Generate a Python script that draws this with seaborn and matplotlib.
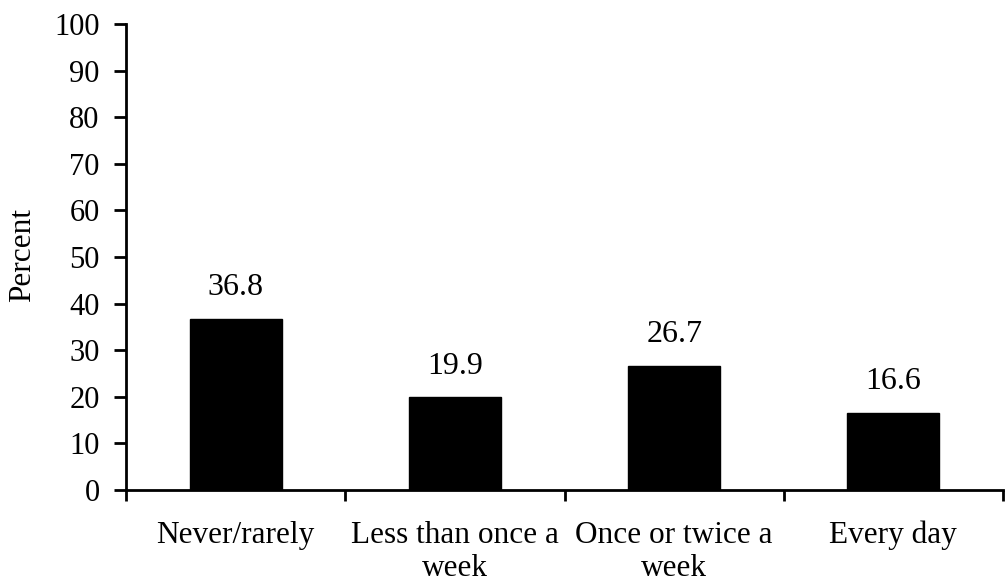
import matplotlib
matplotlib.use("Agg")
import matplotlib.pyplot as plt
import seaborn as sns
import pandas as pd
import numpy as np

categories = ["Never/rarely", "Less than once a\nweek", "Once or twice a\nweek", "Every day"]
percent = [36.8, 19.9, 26.7, 16.6]
y_ticks = [0, 10, 20, 30, 40, 50, 60, 70, 80, 90, 100]

sns.set_style("white")
plt.rcParams["font.family"] = ["Liberation Serif", "DejaVu Serif"]
plt.rcParams["text.color"] = "black"
plt.rcParams["xtick.color"] = "black"
plt.rcParams["ytick.color"] = "black"
plt.rcParams["axes.labelcolor"] = "black"

df = pd.DataFrame({"category": categories, "percent": percent})

fig = plt.figure(figsize=(10.05, 5.82), dpi=100)
ax = fig.add_axes([0.1254, 0.158, 0.8726, 0.8008])

sns.barplot(data=df, x="category", y="percent", color="black",
            width=0.42, saturation=1, ax=ax)
for p in ax.patches:
    p.set_edgecolor("black")

ax.bar_label(ax.containers[0], labels=[f"{v:.1f}" for v in percent],
             padding=12, fontsize=23, color="black")

ax.set_xlim(-0.5, len(categories) - 0.5)
ax.set_ylim(0, 100)
ax.set_yticks(y_ticks)
ax.tick_params(axis="y", labelsize=22, length=9, width=2, direction="out",
               left=True, pad=10)

# category boundaries carry the x tick marks; labels sit at bar centres
ax.set_xticks(np.arange(len(categories)))
ax.set_xticklabels(categories, fontsize=22.5, linespacing=1.2)
ax.set_xticks(np.arange(-0.5, len(categories)), minor=True)
ax.tick_params(axis="x", which="major", length=0, pad=22)
ax.tick_params(axis="x", which="minor", length=8, width=2, direction="out",
               bottom=True)

ax.set_xlabel("")
ax.set_ylabel("Percent", fontsize=22.5)
ax.yaxis.set_label_coords(-0.101, 0.504)

for side in ("top", "right"):
    ax.spines[side].set_visible(False)
for side in ("left", "bottom"):
    ax.spines[side].set_linewidth(2)
    ax.spines[side].set_color("black")

fig.savefig("out.png", dpi=100, facecolor="white")
